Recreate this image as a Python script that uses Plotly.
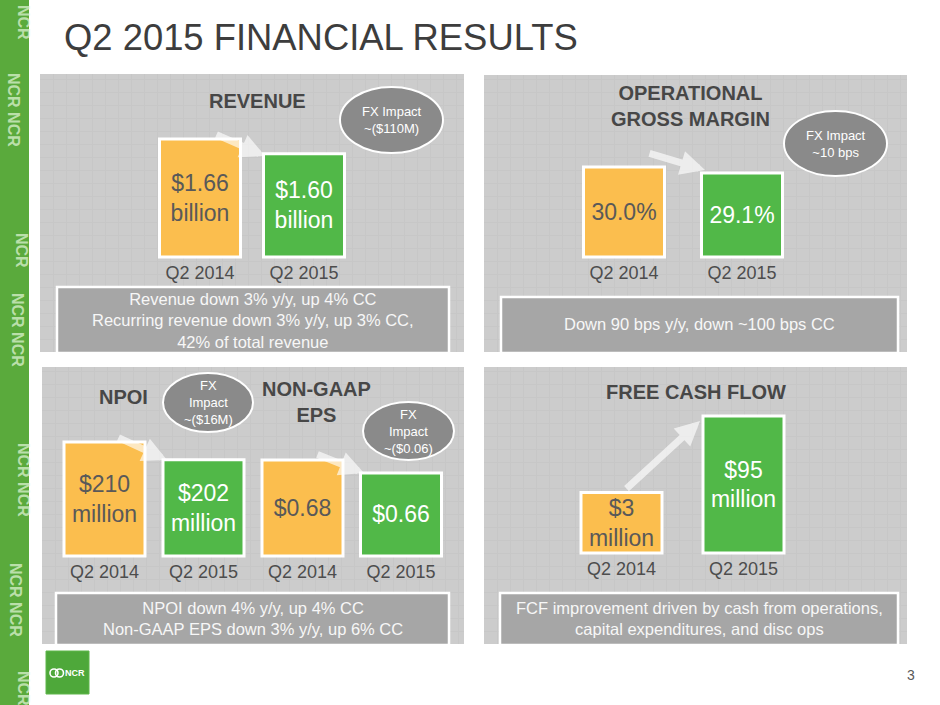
import plotly.graph_objects as go

# ------------------------------------------------------------
# data
# ------------------------------------------------------------
periods = ["Q2 2014", "Q2 2015"]
revenue_bn = [1.66, 1.60]
gross_margin_pct = [30.0, 29.1]
npoi_mn = [210, 202]
eps_usd = [0.68, 0.66]
fcf_mn = [3, 95]

revenue_text = [f"${v:.2f}<br>billion" for v in revenue_bn]
margin_text = [f"{v:.1f}%" for v in gross_margin_pct]
npoi_text = [f"${v}<br>million" for v in npoi_mn]
eps_text = [f"${v:.2f}" for v in eps_usd]
fcf_text = [f"${v}<br>million" for v in fcf_mn]

fx_revenue = "FX Impact<br>~($110M)"
fx_margin = "FX Impact<br>~10 bps"
fx_npoi = "FX<br>Impact<br>~($16M)"
fx_eps = "FX<br>Impact<br>~($0.06)"

notes_revenue = ("Revenue down 3% y/y, up 4% CC<br>"
                 "Recurring revenue down 3% y/y, up 3% CC,<br>"
                 "42% of total revenue")
notes_margin = "Down 90 bps y/y, down ~100 bps CC"
notes_npoi = "NPOI down 4% y/y, up 4% CC<br>Non-GAAP EPS down 3% y/y, up 6% CC"
notes_fcf = ("FCF improvement driven by cash from operations,<br>"
             "capital expenditures, and disc ops")

# ------------------------------------------------------------
# styling
# ------------------------------------------------------------
W, H = 940, 705
FONT = "Arial, Liberation Sans, sans-serif"
ORANGE = "#fbbe4e"
GREEN = "#51b848"
bar_colors = [ORANGE, GREEN]
bar_text_colors = ["#595959", "#ffffff"]
PANEL = "#cccccc"
BOX = "#a6a6a6"
ELLIPSE = "#8a8a8a"
DARK = "#474747"


def fx(p):
    return p / W


def fy(p):
    return 1 - p / H


fig = go.Figure()
shapes = []
annotations = []

# panels (pixel boxes) -> background axes with a faint grid
panels = [(40, 74, 464, 352), (484, 75, 907, 352),
          (42, 367, 464, 644), (484, 367, 907, 644)]
for i, (x0, y0, x1, y1) in enumerate(panels, start=1):
    shapes.append(dict(type="rect", xref="paper", yref="paper", layer="below",
                       x0=fx(x0), x1=fx(x1), y0=fy(y1), y1=fy(y0),
                       fillcolor=PANEL, line=dict(width=0)))
    sfx = "" if i == 1 else str(i)
    fig.add_trace(go.Scatter(x=[None], y=[None], xaxis="x" + sfx, yaxis="y" + sfx,
                             showlegend=False, hoverinfo="skip"))
    grid = dict(showgrid=True, gridcolor="#c7c7c7", gridwidth=1, zeroline=False,
                showticklabels=False, ticks="", fixedrange=True)
    fig.layout["xaxis" + sfx] = dict(domain=[fx(x0), fx(x1)], range=[0, x1 - x0],
                                     dtick=13, anchor="y" + sfx, **grid)
    fig.layout["yaxis" + sfx] = dict(domain=[fy(y1), fy(y0)], range=[0, y1 - y0],
                                     dtick=13, anchor="x" + sfx, **grid)

# bar groups: values, texts, bar centres (px), bar width (px), baseline/top (px), axis floor
bar_groups = [
    (revenue_bn, revenue_text, (200, 304), 81, 257, 139, 1.184),
    (gross_margin_pct, margin_text, (624, 742), 81, 257, 167, 16.35),
    (npoi_mn, npoi_text, (104.5, 203.5), 81, 556, 442, 158.9),
    (eps_usd, eps_text, (302.5, 401), 81, 556, 460, 0.531),
    (fcf_mn, fcf_text, (621.5, 743.5), 81, 553, 416, -69.9),
]
for k, (vals, texts, (c0, c1), wpx, base_px, top_px, lo) in enumerate(bar_groups, start=5):
    sfx = str(k)
    d = c1 - c0
    vmax = max(vals)
    upp = (vmax - lo) / (base_px - top_px)
    pad_t, pad_b = 4, 3
    fig.add_trace(go.Bar(
        x=periods, y=[v - lo for v in vals], base=lo,
        text=texts, textposition="inside", insidetextanchor="middle",
        textangle=0, constraintext="none",
        textfont=dict(family=FONT, size=23, color=bar_text_colors),
        marker=dict(color=bar_colors, line=dict(color="white", width=3)),
        width=wpx / d, xaxis="x" + sfx, yaxis="y" + sfx,
        showlegend=False, hoverinfo="skip"))
    fig.layout["xaxis" + sfx] = dict(
        domain=[fx(c0 - d / 2), fx(c1 + d / 2)], range=[-0.5, 1.5], type="category",
        anchor="y" + sfx, showgrid=False, zeroline=False, showline=False, ticks="",
        tickfont=dict(family=FONT, size=18, color="#4d4d4d"), fixedrange=True)
    fig.layout["yaxis" + sfx] = dict(
        domain=[fy(base_px + pad_b), fy(top_px - pad_t)],
        range=[lo - pad_b * upp, vmax + pad_t * upp], anchor="x" + sfx,
        visible=False, fixedrange=True)


def ann(x, y, text, size, color, bold=False, xanchor="center"):
    annotations.append(dict(
        x=fx(x), y=fy(y), xref="paper", yref="paper", showarrow=False,
        text=f"<b>{text}</b>" if bold else text, xanchor=xanchor, yanchor="middle",
        align="center", font=dict(family=FONT, size=size, color=color)))


# title
ann(62, 38, "Q2 2015 FINANCIAL RESULTS", 36.4, "#3d3d3d", xanchor="left")

# panel titles
ann(257, 101, "REVENUE", 20, DARK, bold=True)
ann(690, 106, "OPERATIONAL<br>GROSS MARGIN", 20, DARK, bold=True)
ann(123, 397, "NPOI", 20, DARK, bold=True)
ann(316, 402, "NON-GAAP<br>EPS", 20, DARK, bold=True)
ann(696, 392, "FREE CASH FLOW", 20, DARK, bold=True)

# FX impact ellipses
for (x0, y0, x1, y1), txt in [((340, 87, 443, 153), fx_revenue),
                              ((784, 111, 887, 176), fx_margin),
                              ((163, 373, 253, 432), fx_npoi),
                              ((363, 402, 454, 460), fx_eps)]:
    shapes.append(dict(type="circle", xref="paper", yref="paper", layer="above",
                       x0=fx(x0), x1=fx(x1), y0=fy(y1), y1=fy(y0),
                       fillcolor=ELLIPSE, line=dict(color="white", width=2)))
    ann((x0 + x1) / 2, (y0 + y1) / 2, txt, 13, "#ffffff")

# note boxes
for (x0, y0, x1, y1), txt, ty in [((57, 287, 449, 353), notes_revenue, 320),
                                  ((501, 297, 898, 353), notes_margin, 324),
                                  ((56, 593, 449, 645), notes_npoi, 618),
                                  ((500, 593, 898, 645), notes_fcf, 618)]:
    shapes.append(dict(type="rect", xref="paper", yref="paper", layer="above",
                       x0=fx(x0), x1=fx(x1), y0=fy(y1), y1=fy(y0),
                       fillcolor=BOX, line=dict(color="white", width=2.5)))
    ann((x0 + x1) / 2, ty, txt, 16.5, "#f7f7f7")

# white transition arrows between the boxes (head, tail offset)
for hx, hy, dx, dy in [(265, 156, -50, -22), (705, 170, -57, -17),
                       (167, 460, -50, -23), (364, 473, -48, -19),
                       (700, 421, -75, 69)]:
    annotations.append(dict(x=fx(hx), y=fy(hy), xref="paper", yref="paper",
                            ax=dx, ay=dy, text="", showarrow=True, arrowhead=2,
                            arrowsize=0.7, arrowwidth=7,
                            arrowcolor="rgba(255,255,255,0.65)"))

# left decorative strip
shapes.append(dict(type="rect", xref="paper", yref="paper", layer="below",
                   x0=0, x1=fx(29), y0=0, y1=1, fillcolor="#5aaa3c", line=dict(width=0)))
for xx, yy, txt in [(24, 22, "NCR"), (14, 110, "NCR NCR"), (22, 250, "NCR"),
                    (18, 330, "NCR NCR"), (24, 480, "NCR NCR"), (16, 600, "NCR NCR"),
                    (24, 688, "NCR")]:
    annotations.append(dict(x=fx(xx), y=fy(yy), xref="paper", yref="paper",
                            xanchor="center", yanchor="middle",
                            showarrow=False, text=f"<b>{txt}</b>", textangle=90,
                            font=dict(family=FONT, size=16, color="rgba(230,248,220,0.7)")))

# NCR logo
shapes.append(dict(type="rect", xref="paper", yref="paper", layer="above",
                   x0=fx(46), x1=fx(89), y0=fy(694), y1=fy(651),
                   fillcolor="#4ea83a", line=dict(color="#5fb64a", width=1)))
for cx in (54, 59.5):
    shapes.append(dict(type="circle", xref="paper", yref="paper", layer="above",
                       x0=fx(cx - 4), x1=fx(cx + 4), y0=fy(677), y1=fy(669),
                       line=dict(color="white", width=1.6)))
ann(75, 673, "NCR", 9, "#ffffff", bold=True)

# page number
ann(911, 675, "3", 14, "#595959")

fig.update_layout(
    width=W, height=H, margin=dict(l=0, r=0, t=0, b=0),
    paper_bgcolor="white", plot_bgcolor="rgba(0,0,0,0)",
    shapes=shapes, annotations=annotations,
    showlegend=False, barmode="overlay",
)

# page body has an 8px default margin; drop it so the slide sits at 0,0
fig.write_html("out.html", config={"displayModeBar": False},
               post_script="document.body.style.margin='0';")
